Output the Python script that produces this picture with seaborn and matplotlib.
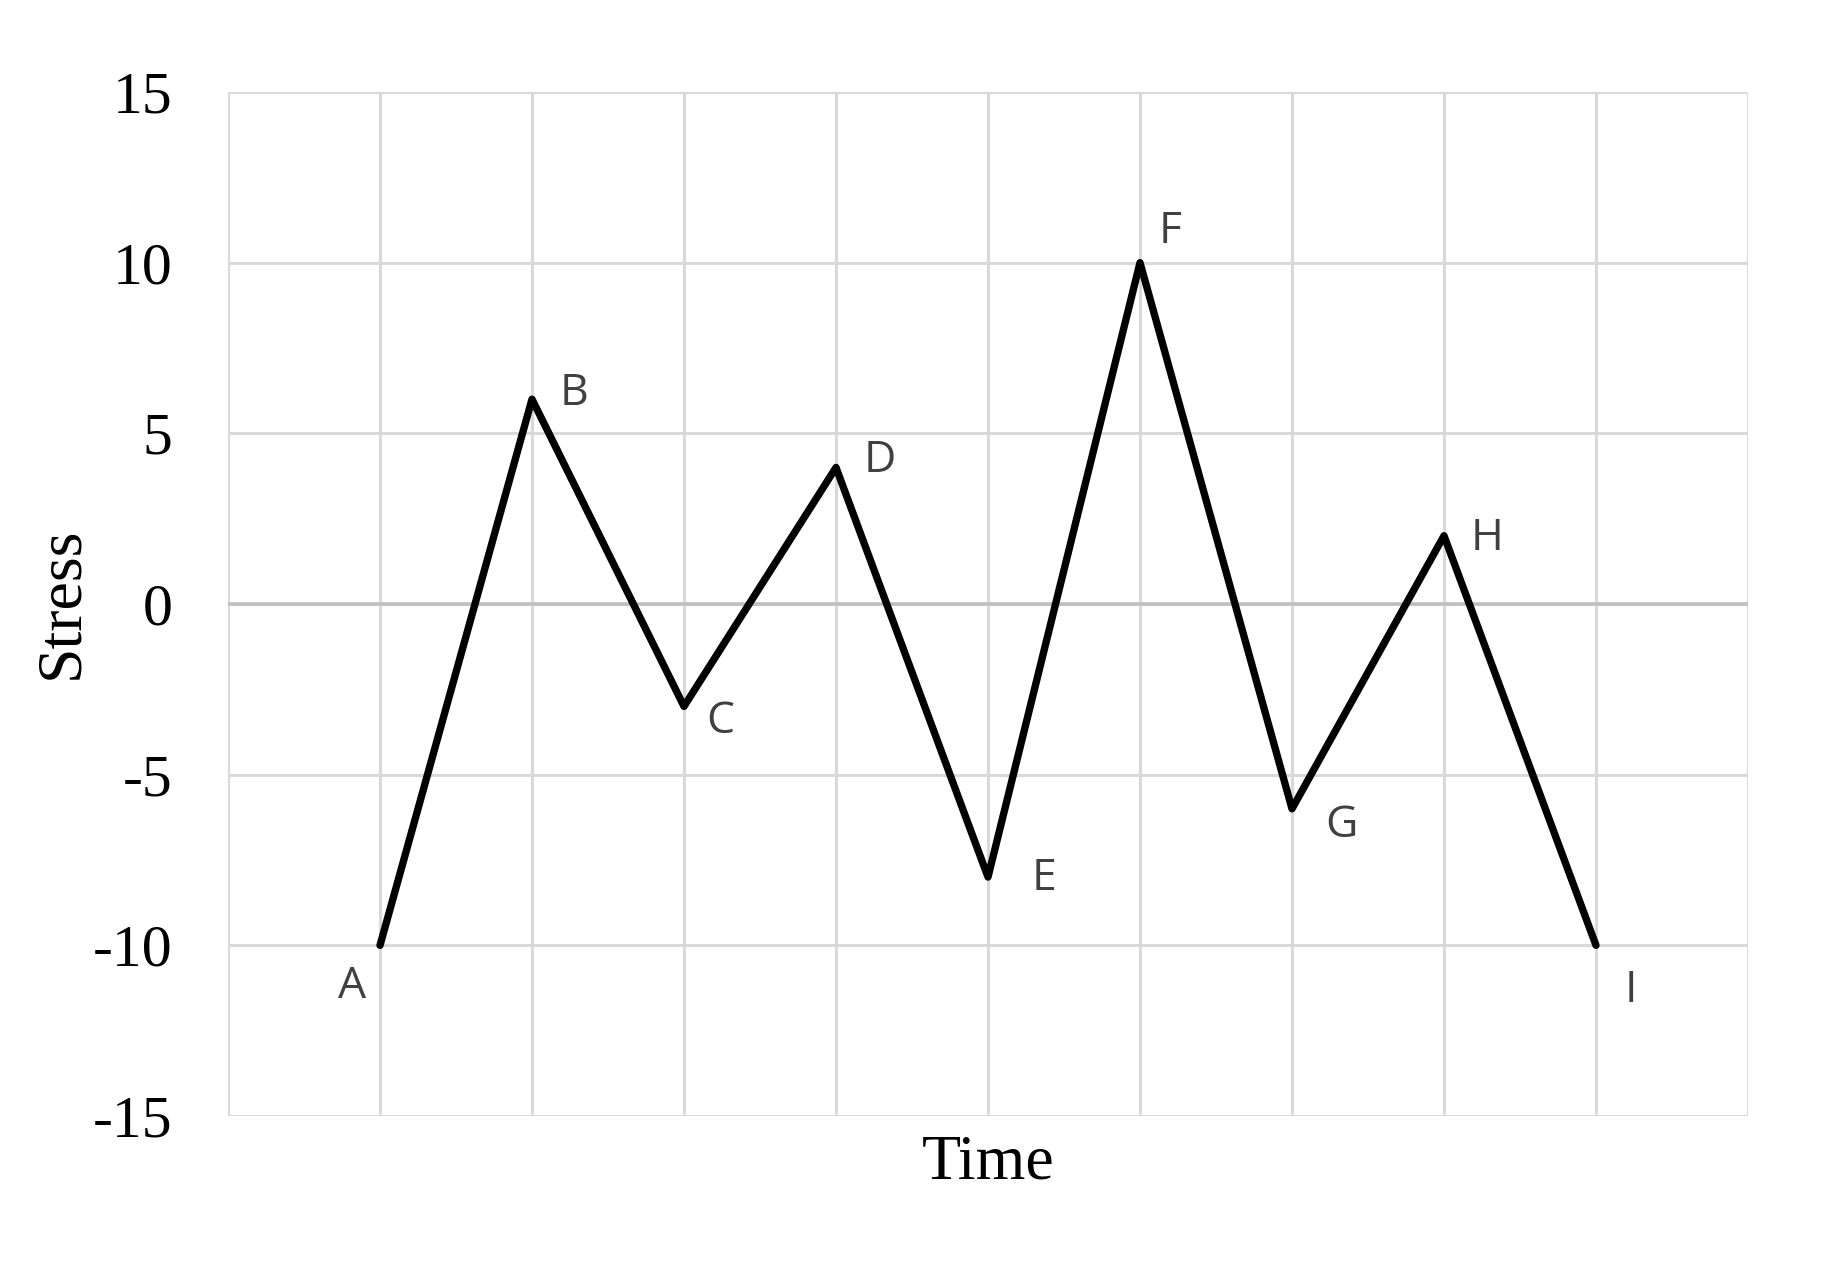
import numpy as np
import pandas as pd
import matplotlib
matplotlib.use("Agg")
import matplotlib.pyplot as plt
import seaborn as sns

# DATA
labels = ['A', 'B', 'C', 'D', 'E', 'F', 'G', 'H', 'I']
time = [1, 2, 3, 4, 5, 6, 7, 8, 9]
stress = [-10, 6, -3, 4, -8, 10, -6, 2, -10]
yticks = [-15, -10, -5, 0, 5, 10, 15]

# label offsets in pixels (dx right, dy up)
offsets_px = {
    'A': (-28, -41), 'B': (42, 5), 'C': (36, -15), 'D': (44, 7),
    'E': (56, -2), 'F': (30, 31), 'G': (50, -17), 'H': (43, -3), 'I': (35, -45),
}

df = pd.DataFrame({'Time': time, 'Stress': stress, 'label': labels})

sns.set_style('white')
plt.rcParams['font.family'] = ['Liberation Serif', 'DejaVu Serif']

fig = plt.figure(figsize=(18.22, 12.62), dpi=100)
ax = fig.add_axes([228 / 1822, 1 - 1116 / 1262, (1748 - 228) / 1822, (1116 - 92) / 1262])

sns.lineplot(data=df, x='Time', y='Stress', sort=False, color='black',
             linewidth=5.3, ax=ax, zorder=5, solid_joinstyle='round',
             solid_capstyle='round')

ax.set_xlim(0, 10)
ax.set_ylim(-15, 15)
ax.set_xticks(np.arange(0, 11))
ax.set_yticks(yticks)
ax.set_xticklabels([])
ax.set_yticklabels([str(t) for t in yticks])
ax.tick_params(length=0, labelsize=43, pad=40, labelcolor='black')
ax.grid(True, color='#d9d9d9', linewidth=2.2, linestyle='-')
ax.axhline(0, color='#bfbfbf', linewidth=2.6, zorder=2)
for s in ax.spines.values():
    s.set_visible(False)

ax.set_xlabel('Time', fontsize=46, color='black', va='center')
ax.set_ylabel('Stress', fontsize=46, color='black', va='center')
ax.xaxis.set_label_coords(0.5, -0.046)
ax.yaxis.set_label_coords(-0.109, 0.501)

for lab, x, y in zip(labels, time, stress):
    dx, dy = offsets_px[lab]
    ax.annotate(lab, (x, y), xytext=(dx * 0.72, dy * 0.72), textcoords='offset points',
                ha='center', va='center', fontsize=32, color='#404040',
                family=['Open Sans', 'DejaVu Sans'])

fig.savefig('out.png', dpi=100)
